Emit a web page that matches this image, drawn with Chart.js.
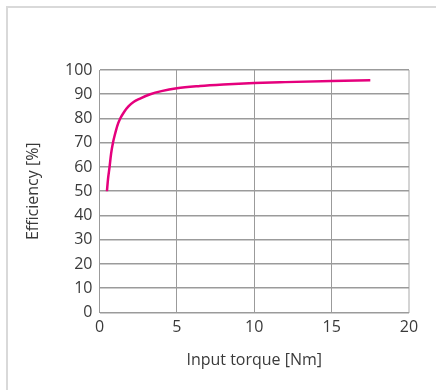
<!DOCTYPE html>
<html>
<head>
<meta charset="utf-8">
<script src="https://cdn.jsdelivr.net/npm/chart.js@4.4.1/dist/chart.umd.min.js"></script>
<style>
  html, body { margin: 0; padding: 0; background: #fff; }
  #wrap { position: relative; width: 436px; height: 390px; overflow: hidden; }
  #frame { position: absolute; left: 6px; top: 6px; width: 440px; height: 400px;
           border-left: 2px solid #d9d9d9; border-top: 2px solid #d9d9d9; box-sizing: border-box; }
  #c { position: absolute; left: 0; top: 0; }
</style>
</head>
<body>
<div id="wrap">
  <div id="frame"></div>
  <canvas id="c" width="436" height="390"></canvas>
</div>
<script>
// Input torque [Nm] and matching efficiency [%]
const torque     = [0.48, 0.55, 0.65, 0.75, 0.87, 1.0, 1.15, 1.34, 1.6, 1.87, 2.2, 2.62, 3.28, 4.0, 5.0, 6.5, 8.0, 10.0, 12.0, 15.0, 17.5];
const efficiency = [50, 55, 60, 65.5, 70, 73.5, 77, 80, 82.8, 85, 86.8, 88.2, 90, 91.3, 92.5, 93.4, 94.0, 94.6, 95.0, 95.5, 95.8];

const xTicks = [0, 5, 10, 15, 20];
const yTicks = [0, 10, 20, 30, 40, 50, 60, 70, 80, 90, 100];

const xTitle = 'Input torque [Nm]';
const yTitle = 'Efficiency [%]';

const points = torque.map((t, i) => ({ x: t, y: efficiency[i] }));

const fontFamily = '"Open Sans", "DejaVu Sans", sans-serif';
const textColor = '#3a3a3a';
const gridColor = '#9b9b9b';

new Chart(document.getElementById('c'), {
  type: 'line',
  data: {
    datasets: [{
      data: points,
      borderColor: '#e5007d',
      borderWidth: 2.5,
      pointRadius: 0,
      cubicInterpolationMode: 'monotone',
      fill: false
    }]
  },
  options: {
    responsive: false,
    animation: false,
    devicePixelRatio: 1,
    layout: { padding: { left: 0, right: 27, top: 70, bottom: 0 } },
    plugins: { legend: { display: false }, tooltip: { enabled: false } },
    scales: {
      x: {
        type: 'linear',
        min: 0, max: 20,
        afterBuildTicks: s => { s.ticks = xTicks.map(v => ({ value: v })); },
        afterFit: s => { s.height = 77.5; },
        ticks: { color: textColor, font: { family: fontFamily, size: 16 }, padding: 5 },
        grid: {
          color: c => (c.tick && c.tick.value === 20) ? '#d4d4d4' : gridColor,
          lineWidth: c => (c.tick && c.tick.value === 20) ? 2 : 1,
          drawTicks: false
        },
        border: { display: false },
        title: { display: true, text: xTitle, color: textColor,
                 font: { family: fontFamily, size: 16 }, padding: { top: 0, bottom: 20 } }
      },
      y: {
        type: 'linear',
        min: 0, max: 100,
        afterBuildTicks: s => { s.ticks = yTicks.map(v => ({ value: v })); },
        afterFit: s => { s.width = 99.5; },
        ticks: { color: textColor, font: { family: fontFamily, size: 16 }, padding: 7 },
        grid: { color: gridColor, lineWidth: 1.6, drawTicks: false },
        border: { display: false },
        title: { display: true, text: yTitle, color: textColor,
                 font: { family: fontFamily, size: 16 }, padding: { top: 24, bottom: 0 } }
      }
    }
  }
});
</script>
</body>
</html>
